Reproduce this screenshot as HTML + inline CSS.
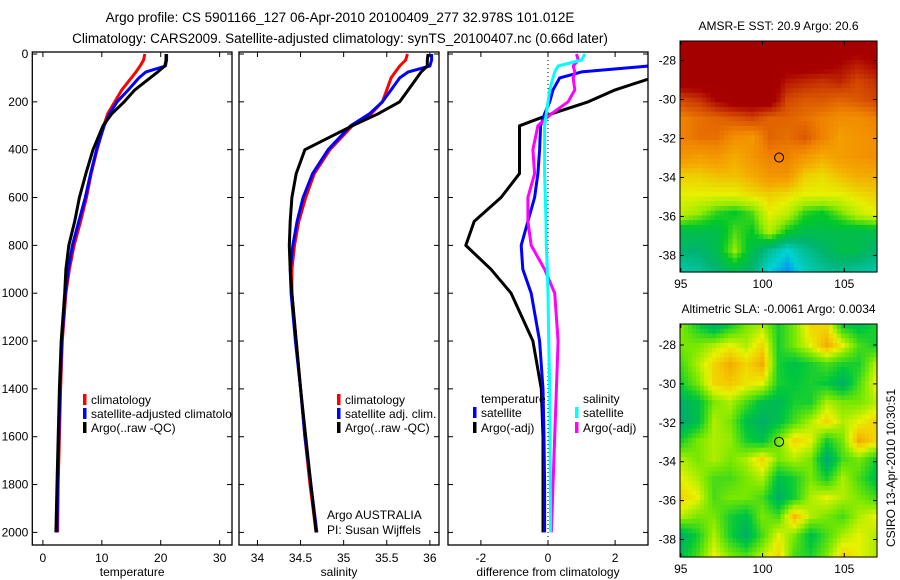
<!DOCTYPE html>
<html><head><meta charset="utf-8">
<style>
html,body{margin:0;padding:0;background:#fff;}
svg{display:block;font-family:"Liberation Sans",sans-serif;}
</style></head>
<body>
<svg id="fig" width="900" height="580" viewBox="0 0 900 580" xmlns="http://www.w3.org/2000/svg">
<rect width="900" height="580" fill="#fff"/>
<text x="340" y="22" font-size="13.5" text-anchor="middle">Argo profile: CS 5901166_127 06-Apr-2010 20100409_277 32.978S 101.012E</text>
<text x="340" y="43" font-size="13.5" text-anchor="middle">Climatology: CARS2009. Satellite-adjusted climatology: synTS_20100407.nc (0.66d later)</text>
<g id="plots"></g>
<text transform="translate(895,468) rotate(-90)" font-size="12" text-anchor="middle">CSIRO 13-Apr-2010 10:30:51</text>
</svg>
<script>
// ---- profile data ----
const depth = [0,25,50,75,100,150,200,250,300,400,500,600,700,800,900,1000,1200,1400,1600,1800,2000];
const tClim = [17.3,17.1,16.5,15.8,15.0,13.4,12.2,11.0,10.3,9.2,8.2,7.4,6.4,5.3,4.5,3.9,3.3,3.0,2.8,2.6,2.5];
const tSat  = [21,21,20.8,17.5,16.3,14.5,12.6,11.3,10.4,9.1,8.1,7.2,6.1,5.0,4.3,3.8,3.2,2.9,2.7,2.5,2.4];
const tArgo = [20.9,20.9,20.7,19.5,18.2,15.6,13.8,11.7,10.2,8.5,7.3,6.2,5.4,4.4,3.9,3.7,3.1,2.8,2.6,2.4,2.2];
const sClim = [35.74,35.72,35.65,35.6,35.55,35.5,35.45,35.32,35.1,34.84,34.66,34.56,34.48,34.43,34.4,34.4,34.45,34.5,34.55,34.61,34.68];
const sSat  = [36.02,36.02,36.0,35.75,35.65,35.55,35.45,35.3,35.08,34.82,34.64,34.53,34.46,34.41,34.38,34.39,34.44,34.5,34.55,34.62,34.69];
const sArgo = [35.98,35.97,35.97,35.9,35.85,35.75,35.65,35.4,35.1,34.55,34.45,34.4,34.38,34.37,34.38,34.4,34.45,34.5,34.56,34.62,34.68];
const dTSat  = [3.5,3.3,3.0,1.0,0.35,0.15,0.05,-0.1,-0.22,-0.25,-0.3,-0.4,-0.6,-0.8,-0.75,-0.5,-0.25,-0.15,-0.12,-0.1,-0.1];
const dTArgo = [4.5,4.4,4.2,3.6,3.1,2.0,1.2,0.1,-0.85,-0.85,-0.85,-1.4,-2.2,-2.45,-1.7,-1.1,-0.45,-0.2,-0.15,-0.15,-0.15];
const dSSat  = [1.1,1.0,0.3,0.2,0.15,0.05,0.0,-0.05,-0.1,-0.1,-0.1,-0.08,-0.06,-0.05,-0.02,0.0,0.02,0.05,0.06,0.07,0.08];
const dSArgo = [0.85,0.9,0.75,0.8,0.75,0.8,0.6,0.1,-0.3,-0.45,-0.4,-0.6,-0.6,-0.5,-0.1,0.2,0.3,0.25,0.2,0.15,0.1];
const depthTicks = [0,200,400,600,800,1000,1200,1400,1600,1800,2000];
const tTicks = [0,10,20,30];
const sTicks = [34,34.5,35,35.5,36];
const dTicks = [-2,0,2];
// ---- map data (rows north->south, cols west->east) ----
const sstGrid = [
[1,1,1,1,1,1,1,1,1,1,1,1],
[1,1,1,1,1,1,1,1,1,0.95,0.92,0.95],
[1,1,1,1,1,1,0.92,0.9,0.88,0.9,0.85,0.88],
[0.85,0.88,0.95,1,1,1,0.85,0.82,0.82,0.8,0.82,0.85],
[0.75,0.78,0.8,0.82,0.85,0.8,0.8,0.78,0.75,0.72,0.72,0.75],
[0.75,0.78,0.78,0.72,0.7,0.8,0.78,0.82,0.75,0.68,0.7,0.72],
[0.7,0.68,0.7,0.65,0.7,0.75,0.75,0.7,0.65,0.68,0.7,0.72],
[0.6,0.6,0.62,0.62,0.65,0.7,0.7,0.6,0.58,0.62,0.65,0.65],
[0.55,0.55,0.55,0.55,0.58,0.6,0.58,0.55,0.55,0.55,0.58,0.6],
[0.5,0.45,0.38,0.35,0.4,0.55,0.5,0.38,0.35,0.42,0.5,0.55],
[0.3,0.3,0.3,0.4,0.35,0.48,0.35,0.3,0.3,0.3,0.3,0.3],
[0.25,0.25,0.3,0.45,0.3,0.2,0.12,0.2,0.25,0.3,0.3,0.25],
[0.18,0.2,0.25,0.3,0.25,0.12,0.05,0.15,0.2,0.22,0.2,0.18]];
const slaGrid = [
[0.5,0.3,0.1,0.3,0.5,0.6,0.3,0.5,0.8,0.8,0.3,0.2,0.3],
[0.5,0.5,0.6,0.7,0.6,0.8,0.3,0.5,0.7,0.95,0.7,0.4,0.3],
[0.4,0.6,0.8,0.95,0.8,0.95,0.3,0.2,0.3,0.4,0.3,0.3,0.6],
[0.3,0.5,0.8,0.85,0.75,0.7,0.3,0.25,0.3,0.25,0.1,0.4,0.7],
[0.1,0.2,0.5,0.6,0.4,0.2,0.15,0.3,0.3,0.6,0.5,0.5,0.6],
[0.05,0.2,0.6,0.5,0.2,0.1,0.2,0.4,0.6,0.8,0.6,0.7,0.8],
[0.3,0.5,0.6,0.55,0.3,0.2,0.5,0.8,0.7,0.3,0.5,0.95,0.8],
[0.6,0.5,0.6,0.5,0.6,0.8,0.5,0.6,0.5,0.05,0.4,0.5,0.3],
[0.7,0.6,0.4,0.4,0.5,0.6,0.2,0.3,0.5,0.3,0.6,0.4,0.2],
[0.8,0.7,0.4,0.5,0.5,0.4,0.1,0.3,0.6,0.7,0.6,0.5,0.4],
[0.6,0.5,0.5,0.3,0.2,0.5,0.4,0.9,0.6,0.5,0.4,0.6,0.7],
[0.1,0.3,0.6,0.3,0.1,0.4,0.7,0.5,0.2,0.4,0.6,0.7,0.6],
[0.2,0.4,0.7,0.5,0.4,0.6,0.8,0.4,0.3,0.5,0.8,0.7,0.6]];
const lonTicks = [95,100,105];
const latTicks = [-28,-30,-32,-34,-36,-38];
const argoLon = 101.012, argoLat = -32.978;

const NS = 'http://www.w3.org/2000/svg';
const root = document.getElementById('plots');
function mk(tag, attrs, parent){const e=document.createElementNS(NS,tag);for(const k in attrs)e.setAttribute(k,attrs[k]);(parent||root).appendChild(e);return e;}
const top0=52, bot0=545;
const yDepth = d => 54 + d*0.2392;

function profilePanel(name, x0, x1, xmin, xmax, ticks, label, series, showY, extra){
  const g = mk('g',{});
  
  
  const xs = v => x0 + (v-xmin)/(xmax-xmin)*(x1-x0);
  const cid = name+'-clip';
  const cp = mk('clipPath',{id:cid},g); mk('rect',{x:x0,y:top0,width:x1-x0,height:bot0-top0},cp);
  if(extra) extra(g,xs);
  series.forEach(s=>{
    const pts = depth.map((d,i)=>xs(s.vals[i]).toFixed(1)+','+yDepth(d).toFixed(1)).join(' ');
    const pl = mk('polyline',{points:pts,fill:'none',stroke:s.color,'stroke-width':3,'stroke-linejoin':'round','clip-path':'url(#'+cid+')'},g);
    
    
  });
  const fr = mk('rect',{x:x0,y:top0,width:x1-x0,height:bot0-top0,fill:'none',stroke:'#000','stroke-width':1.3},g);
  
  
  ticks.forEach(t=>{
    const x=xs(t);
    mk('line',{x1:x,x2:x,y1:bot0,y2:bot0-5,stroke:'#000'},g);
    mk('line',{x1:x,x2:x,y1:top0,y2:top0+5,stroke:'#000'},g);
    const tx = mk('text',{x:x,y:bot0+17,'font-size':12,'text-anchor':'middle'},g);
    tx.textContent = t;
    
    
  });
  depthTicks.forEach(d=>{
    const y=yDepth(d);
    mk('line',{x1:x0,x2:x0+5,y1:y,y2:y,stroke:'#000'},g);
    mk('line',{x1:x1,x2:x1-5,y1:y,y2:y,stroke:'#000'},g);
    if(showY){
      const tx = mk('text',{x:x0-4,y:y+4,'font-size':12,'text-anchor':'end'},g);
      tx.textContent = d;
      
      
    }
  });
  const xl = mk('text',{x:(x0+x1)/2,y:576,'font-size':12,'text-anchor':'middle'},g);
  xl.textContent = label;
  
  
  return g;
}
function legendEntry(g,x,y,color,text){
  const e = mk('g',{},g);
  
  
  if(color) mk('rect',{x:x-8,y:y-10,width:3.5,height:11,fill:color},e);
  const t = mk('text',{x:x,y:y,'font-size':12},e);
  t.textContent = text;
}

const p1 = profilePanel('temperature-panel',32.3,232,-1.8,32.1,tTicks,'temperature',[
  {name:'temp-climatology-line',color:'#f00',vals:tClim},
  {name:'temp-satellite-line',color:'#00f',vals:tSat},
  {name:'temp-argo-line',color:'#000',vals:tArgo}],true);
const l1 = mk('g',{'clip-path':'url(#temperature-panel-clip)'},p1);
legendEntry(l1,91,404,'#f00','climatology');
legendEntry(l1,91,418,'#00f','satellite-adjusted climatology');
legendEntry(l1,91,432,'#000','Argo(..raw -QC)');

const p2 = profilePanel('salinity-panel',239,439,33.786,36.106,sTicks,'salinity',[
  {name:'sal-climatology-line',color:'#f00',vals:sClim},
  {name:'sal-satellite-line',color:'#00f',vals:sSat},
  {name:'sal-argo-line',color:'#000',vals:sArgo}],false);
legendEntry(p2,345,404,'#f00','climatology');
legendEntry(p2,345,418,'#00f','satellite adj. clim.');
legendEntry(p2,345,432,'#000','Argo(..raw -QC)');
const a1 = mk('text',{x:327,y:519,'font-size':12},p2); a1.textContent='Argo AUSTRALIA';


const a2 = mk('text',{x:327,y:534,'font-size':12},p2); a2.textContent='PI: Susan Wijffels';



const p3 = profilePanel('difference-panel',448,648,-2.98,2.98,dTicks,'difference from climatology',[
  {name:'diff-temp-argo-line',color:'#000',vals:dTArgo},
  {name:'diff-temp-satellite-line',color:'#00f',vals:dTSat},
  {name:'diff-sal-argo-line',color:'#f0f',vals:dSArgo},
  {name:'diff-sal-satellite-line',color:'#0ff',vals:dSSat}],false,
  (g,xs)=>{const z=mk('line',{x1:xs(0),x2:xs(0),y1:top0,y2:bot0,stroke:'#000','stroke-dasharray':'1,3'},g);
    
    });
legendEntry(p3,481,403,null,'temperature');
legendEntry(p3,481,417,'#00f','satellite');
legendEntry(p3,481,432,'#000','Argo(-adj)');
legendEntry(p3,583,403,null,'salinity');
legendEntry(p3,583,417,'#0ff','satellite');
legendEntry(p3,583,432,'#f0f','Argo(-adj)');

// ---- maps ----
function lerpColor(stops,v){
  v=Math.max(0,Math.min(1,v));
  for(let i=1;i<stops.length;i++){
    if(v<=stops[i][0]){
      const a=stops[i-1],b=stops[i],t=(v-a[0])/(b[0]-a[0]);
      return 'rgb('+[0,1,2].map(k=>Math.round(a[1][k]+(b[1][k]-a[1][k])*t)).join(',')+')';
    }
  }
  const l=stops[stops.length-1][1]; return 'rgb('+l.join(',')+')';
}
const sstStops=[[0,[0,110,255]],[0.12,[0,210,210]],[0.25,[0,180,110]],[0.35,[0,200,40]],[0.45,[150,235,0]],[0.55,[230,240,0]],[0.65,[245,170,0]],[0.75,[240,130,0]],[0.85,[210,70,0]],[0.95,[168,0,0]],[1,[165,0,0]]];
const slaStops=[[0,[0,160,130]],[0.25,[0,200,60]],[0.5,[120,232,0]],[0.7,[230,242,0]],[0.85,[245,200,0]],[1,[240,160,0]]];

function mapPanel(name,title,grid,stops,x0,x1,y0,y1,latTop,latBot){
  const g = mk('g',{});
  
  
  const lonMin=94.95, lonMax=107.0;
  const xs = lon => x0+(lon-lonMin)/(lonMax-lonMin)*(x1-x0);
  const ys = lat => y0+(latTop-lat)/(latTop-latBot)*(y1-y0);
  const R=grid.length, C=grid[0].length, sub=4;
  const nx=(C-1)*sub+1, ny=(R-1)*sub+1;
  const cw=(x1-x0)/nx, ch=(y1-y0)/ny;
  for(let j=0;j<ny;j++){
    const fr=j/sub, r0=Math.min(Math.floor(fr),R-2), tr=fr-r0;
    for(let i=0;i<nx;i++){
      const fc=i/sub, c0=Math.min(Math.floor(fc),C-2), tc=fc-c0;
      const v=(grid[r0][c0]*(1-tc)+grid[r0][c0+1]*tc)*(1-tr)+(grid[r0+1][c0]*(1-tc)+grid[r0+1][c0+1]*tc)*tr;
      mk('rect',{x:(x0+i*cw).toFixed(2),y:(y0+j*ch).toFixed(2),width:(cw+0.6).toFixed(2),height:(ch+0.6).toFixed(2),fill:lerpColor(stops,v)},g);
    }
  }
  const fr = mk('rect',{x:x0,y:y0,width:x1-x0,height:y1-y0,fill:'none',stroke:'#000','stroke-width':1},g);
  
  
  lonTicks.forEach(t=>{const x=xs(t);
    mk('line',{x1:x,x2:x,y1:y1,y2:y1-4,stroke:'#000'},g);
    mk('line',{x1:x,x2:x,y1:y0,y2:y0+4,stroke:'#000'},g);
    const tx=mk('text',{x:x,y:y1+16,'font-size':12,'text-anchor':'middle'},g); tx.textContent=t;
    
    });
  latTicks.forEach(t=>{const y=ys(t);
    mk('line',{x1:x0,x2:x0+4,y1:y,y2:y,stroke:'#000'},g);
    mk('line',{x1:x1,x2:x1-4,y1:y,y2:y,stroke:'#000'},g);
    const tx=mk('text',{x:x0-4,y:y+4,'font-size':12,'text-anchor':'end'},g); tx.textContent=t;
    
    });
  const c = mk('circle',{cx:xs(argoLon),cy:ys(argoLat),r:4.5,fill:'none',stroke:'#000','stroke-width':1},g);
  
  
  const tt = mk('text',{x:(x0+x1)/2,y:y0-11,'font-size':12,'text-anchor':'middle'},g);
  tt.textContent=title;
  
  
}
mapPanel('sst-map','AMSR-E SST: 20.9 Argo: 20.6',sstGrid,sstStops,680,877,41,272,-27.0,-38.85);
mapPanel('sla-map','Altimetric SLA: -0.0061 Argo: 0.0034',slaGrid,slaStops,680,877,324,557,-26.92,-38.9);
</script>
</body></html>
